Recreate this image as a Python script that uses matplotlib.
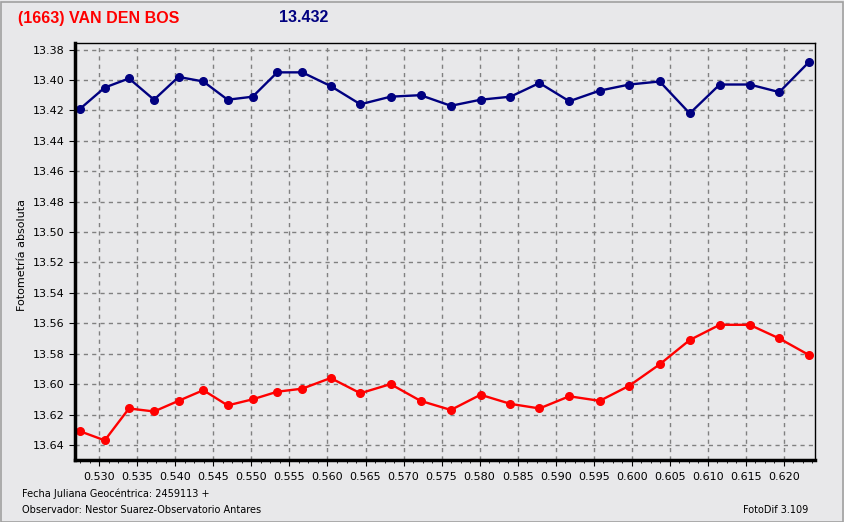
import matplotlib.pyplot as plt
from matplotlib.patches import Rectangle
from matplotlib.ticker import MultipleLocator, FormatStrFormatter

# Julian date fraction (2459113 +)
jd = [0.52746, 0.53071, 0.53390, 0.53719, 0.54041, 0.54367, 0.54687, 0.55016,
      0.55339, 0.55668, 0.56041, 0.56432, 0.56829, 0.57223, 0.57622, 0.58012,
      0.58406, 0.58787, 0.59179, 0.59580, 0.59970, 0.60368, 0.60763, 0.61157,
      0.61551, 0.61941, 0.62335]

mag_blue = [13.419, 13.405, 13.399, 13.413, 13.398, 13.401, 13.413, 13.411,
            13.395, 13.395, 13.404, 13.416, 13.411, 13.410, 13.417, 13.413,
            13.411, 13.402, 13.414, 13.407, 13.403, 13.401, 13.422, 13.403,
            13.403, 13.408, 13.388]

mag_red = [13.631, 13.637, 13.616, 13.618, 13.611, 13.604, 13.614, 13.610,
           13.605, 13.603, 13.596, 13.606, 13.600, 13.611, 13.617, 13.607,
           13.613, 13.616, 13.608, 13.611, 13.601, 13.587, 13.571, 13.561,
           13.561, 13.570, 13.581]

title_text = "(1663) VAN DEN BOS"
mean_text = "13.432"
y_label = "Fotometría absoluta"
date_text = "Fecha Juliana Geocéntrica: 2459113 +"
observer_text = "Observador: Nestor Suarez-Observatorio Antares"
version_text = "FotoDif 3.109"

bg = "#e8e8ea"
W, H = 844, 522

fig = plt.figure(figsize=(W / 100, H / 100), dpi=100, facecolor=bg)
fig.patches.append(Rectangle((0.5 / W, 0.5 / H), 1 - 2 / W, 1 - 2 / H, transform=fig.transFigure,
                             fill=False, edgecolor="#a0a0a0", lw=1.2))

ax = fig.add_axes([75 / W, (H - 460) / H, (815 - 75) / W, (460 - 43) / H], facecolor=bg)

ax.plot(jd, mag_blue, "-", color="#000080", lw=1.7, marker="o", ms=5.5)
ax.plot(jd, mag_red, "-", color="#ff0000", lw=1.7, marker="o", ms=5.5)

ax.set_xlim(0.5268, 0.6241)
ax.set_ylim(13.6499, 13.3757)
ax.xaxis.set_major_locator(MultipleLocator(0.005))
ax.xaxis.set_minor_locator(MultipleLocator(0.00125))
ax.xaxis.set_major_formatter(FormatStrFormatter("%.3f"))
ax.yaxis.set_major_locator(MultipleLocator(0.02))
ax.yaxis.set_major_formatter(FormatStrFormatter("%.2f"))

ax.grid(True, which="major", color="#808080", ls=(0, (3, 3)), lw=1)
ax.tick_params(axis="both", which="major", labelsize=8, length=4, color="black")
ax.tick_params(axis="x", which="minor", length=2.5)
ax.tick_params(axis="x", pad=5)

for side in ["left", "bottom"]:
    ax.spines[side].set_linewidth(2.5)
for side in ["top", "right"]:
    ax.spines[side].set_linewidth(1)

fig.text(18 / W, 1 - 18 / H, title_text, color="#ff0000", fontsize=11.5, fontweight="bold",
         family="Liberation Sans", va="center", ha="left")
fig.text(279 / W, 1 - 18 / H, mean_text, color="#000080", fontsize=11.5, fontweight="bold",
         family="Liberation Sans", va="center", ha="left")
fig.text(22 / W, 1 - 255 / H, y_label, rotation=90, fontsize=8, va="center", ha="center")
fig.text(22 / W, 1 - 494 / H, date_text, fontsize=7, va="center", ha="left")
fig.text(22 / W, 1 - 510 / H, observer_text, fontsize=7, va="center", ha="left")
fig.text(808 / W, 1 - 510 / H, version_text, fontsize=7, va="center", ha="right")

fig.savefig("out.png", dpi=100, facecolor=bg)
